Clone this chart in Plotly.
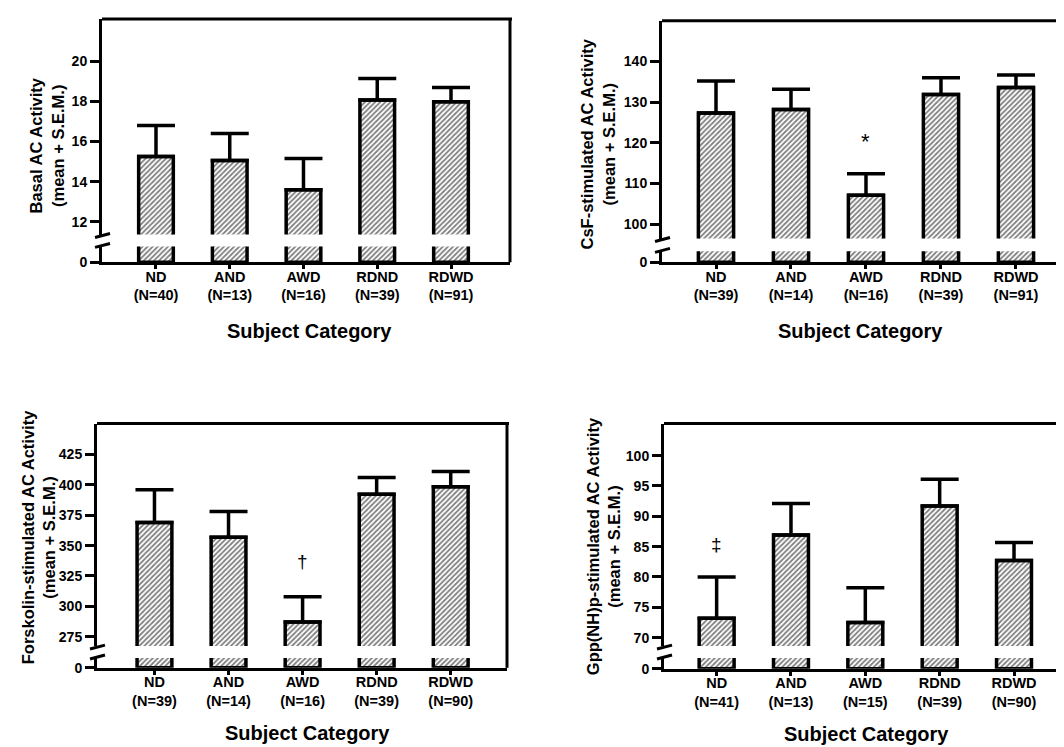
import plotly.graph_objects as go

# ---------------- data ----------------
categories = ["ND", "AND", "AWD", "RDND", "RDWD"]

basal_mean = [15.25, 15.05, 13.6, 18.07, 17.98]
basal_sem = [1.55, 1.35, 1.55, 1.08, 0.72]
basal_n = [40, 13, 16, 39, 91]
basal_ticks = [12, 14, 16, 18, 20]

csf_mean = [127.3, 128.2, 107.1, 131.9, 133.6]
csf_sem = [7.9, 5.0, 5.3, 4.1, 3.1]
csf_n = [39, 14, 16, 39, 91]
csf_ticks = [100, 110, 120, 130, 140]

fsk_mean = [369.1, 356.8, 287.2, 392.2, 398.4]
fsk_sem = [26.8, 21.2, 20.8, 13.8, 12.5]
fsk_n = [39, 14, 16, 39, 90]
fsk_ticks = [275, 300, 325, 350, 375, 400, 425]

gpp_mean = [73.2, 86.9, 72.5, 91.7, 82.7]
gpp_sem = [6.8, 5.2, 5.7, 4.4, 3.0]
gpp_n = [41, 13, 15, 39, 90]
gpp_ticks = [70, 75, 80, 85, 90, 95, 100]

y_titles = ["Basal AC Activity", "CsF-stimulated AC Activity",
            "Forskolin-stimulated AC Activity", "Gpp(NH)p-stimulated AC Activity"]
y_subtitle = "(mean + S.E.M.)"
x_title = "Subject Category"

# significance markers: (category, y value, symbol)
csf_sig = ("AWD", 120.3, "*")
fsk_sig = ("AWD", 337.0, "\u2020")
gpp_sig = ("ND", 85.3, "\u2021")

# ---------------- geometry (pixels) ----------------
W, H = 1064, 747
FONT = "Liberation Sans, Arial, Helvetica, sans-serif"

panels = [
    dict(mean=basal_mean, sem=basal_sem, n=basal_n, ticks=basal_ticks, title=y_titles[0], sig=None,
         x0=94, x1=502, xr=[-0.732, 4.8], up=[11, 229], urange=[11.36, 22.12], low=[241, 257],
         right_frame=True, ytx=39, yty=139, xtx=301, xty=326),
    dict(mean=csf_mean, sem=csf_sem, n=csf_n, ticks=csf_ticks, title=y_titles[1], sig=csf_sig,
         x0=654, x1=1064, xr=[-0.72, 4.747], up=[13, 233], urange=[96.45, 150.0], low=[246, 257],
         right_frame=False, ytx=590, yty=138, xtx=852, xty=326),
    dict(mean=fsk_mean, sem=fsk_sem, n=fsk_n, ticks=fsk_ticks, title=y_titles[2], sig=fsk_sig,
         x0=89, x1=499, xr=[-0.776, 4.76], up=[420, 645], urange=[267.3, 450.5], low=[657, 667],
         right_frame=True, ytx=30, yty=535, xtx=299, xty=733),
    dict(mean=gpp_mean, sem=gpp_sem, n=gpp_n, ticks=gpp_ticks, title=y_titles[3], sig=gpp_sig,
         x0=656, x1=1064, xr=[-0.708, 4.78], up=[420, 645], urange=[68.6, 105.3], low=[657, 668],
         right_frame=False, ytx=595, yty=544, xtx=858, xty=734),
]


def px(x):
    return x / W


def py(y):
    return 1 - y / H


fig = go.Figure()
layout = dict(width=W, height=H, margin=dict(l=0, r=0, t=0, b=0),
              paper_bgcolor="white", plot_bgcolor="white", showlegend=False,
              barmode="overlay", font=dict(family=FONT, color="black"))
shapes = []
annotations = []

LW = 3
bar_marker = dict(color="white", line=dict(color="black", width=3.5),
                  pattern=dict(shape="/", fgcolor="black", bgcolor="white", size=3.6, solidity=0.5))

for i, p in enumerate(panels):
    xi = i + 1
    ylo = 2 * i + 1
    yup = 2 * i + 2
    xname = "x" if xi == 1 else f"x{xi}"
    ylo_name = "y" if ylo == 1 else f"y{ylo}"
    yup_name = f"y{yup}"
    labels = [f"{c}<br>(N={n})" for c, n in zip(categories, p["n"])]

    # lower segment (0 .. break)
    fig.add_trace(go.Bar(x=labels, y=p["mean"], width=0.47, marker=bar_marker,
                         xaxis=xname, yaxis=ylo_name, hoverinfo="skip"))
    # upper segment with error bars
    fig.add_trace(go.Bar(x=labels, y=p["mean"], width=0.47, marker=bar_marker,
                         error_y=dict(type="data", array=p["sem"], arrayminus=[0] * len(p["sem"]),
                                      symmetric=False, color="black", thickness=3.5, width=19),
                         xaxis=xname, yaxis=yup_name))

    xkey = "xaxis" if xi == 1 else f"xaxis{xi}"
    ylokey = "yaxis" if ylo == 1 else f"yaxis{ylo}"
    yupkey = f"yaxis{yup}"

    layout[xkey] = dict(domain=[px(p["x0"]), px(p["x1"])], anchor=ylo_name, type="category",
                        range=p["xr"], showline=True, linewidth=LW, linecolor="black",
                        ticks="outside", ticklen=4, tickwidth=LW, tickcolor="black",
                        ticklabelstandoff=-5,
                        tickfont=dict(size=14.5, weight="bold", family=FONT),
                        showgrid=False, zeroline=False, fixedrange=True)
    layout[ylokey] = dict(domain=[py(p["low"][1]), py(p["low"][0])], anchor=xname,
                          range=[0, 1], tickvals=[0], ticktext=["0"],
                          showline=True, linewidth=LW, linecolor="black",
                          ticks="outside", ticklen=9, tickwidth=LW, tickcolor="black",
                          tickfont=dict(size=14, weight="bold", family=FONT),
                          showgrid=False, zeroline=False, fixedrange=True)
    layout[yupkey] = dict(domain=[py(p["up"][1]), py(p["up"][0])], anchor=xname,
                          range=p["urange"], tickvals=p["ticks"],
                          showline=True, linewidth=LW, linecolor="black",
                          ticks="outside", ticklen=9, tickwidth=LW, tickcolor="black",
                          tickfont=dict(size=14, weight="bold", family=FONT),
                          showgrid=False, zeroline=False, fixedrange=True)

    # frame: top and right
    shapes.append(dict(type="line", xref="paper", yref="paper",
                       x0=px(p["x0"]), x1=px(p["x1"] + 2), y0=py(p["up"][0]), y1=py(p["up"][0]),
                       line=dict(color="black", width=LW)))
    if p["right_frame"]:
        shapes.append(dict(type="line", xref="paper", yref="paper",
                           x0=px(p["x1"]), x1=px(p["x1"]), y0=py(p["up"][0]), y1=py(p["low"][1]),
                           line=dict(color="black", width=LW)))
    # break marks on the left axis
    for yb in (p["up"][1] + 1, p["low"][0] - 1):
        shapes.append(dict(type="line", xref="paper", yref="paper",
                           x0=px(p["x0"] - 7), x1=px(p["x0"] + 8), y0=py(yb + 2), y1=py(yb - 2),
                           line=dict(color="black", width=LW)))

    # y title
    annotations.append(dict(xref="paper", yref="paper", x=px(p["ytx"]), y=py(p["yty"]),
                            text=f"{p['title']}<br>{y_subtitle}", textangle=-90, showarrow=False,
                            xanchor="center", yanchor="middle",
                            font=dict(size=16.5, weight="bold", family=FONT, color="black")))
    # x title
    annotations.append(dict(xref="paper", yref="paper", x=px(p["xtx"]), y=py(p["xty"]),
                            text=x_title, showarrow=False, xanchor="center", yanchor="middle",
                            font=dict(size=20, weight="bold", family=FONT, color="black")))
    # significance marker
    if p["sig"] is not None:
        cat, yv, sym = p["sig"]
        idx = categories.index(cat)
        annotations.append(dict(xref=xname, yref=yup_name, x=labels[idx], y=yv, text=sym,
                                showarrow=False, xanchor="center", yanchor="middle",
                                font=dict(size=22 if sym == "*" else 19, family=FONT,
                                          color="black")))

layout["shapes"] = shapes
layout["annotations"] = annotations
fig.update_layout(**layout)
fig.write_html("out.html")
